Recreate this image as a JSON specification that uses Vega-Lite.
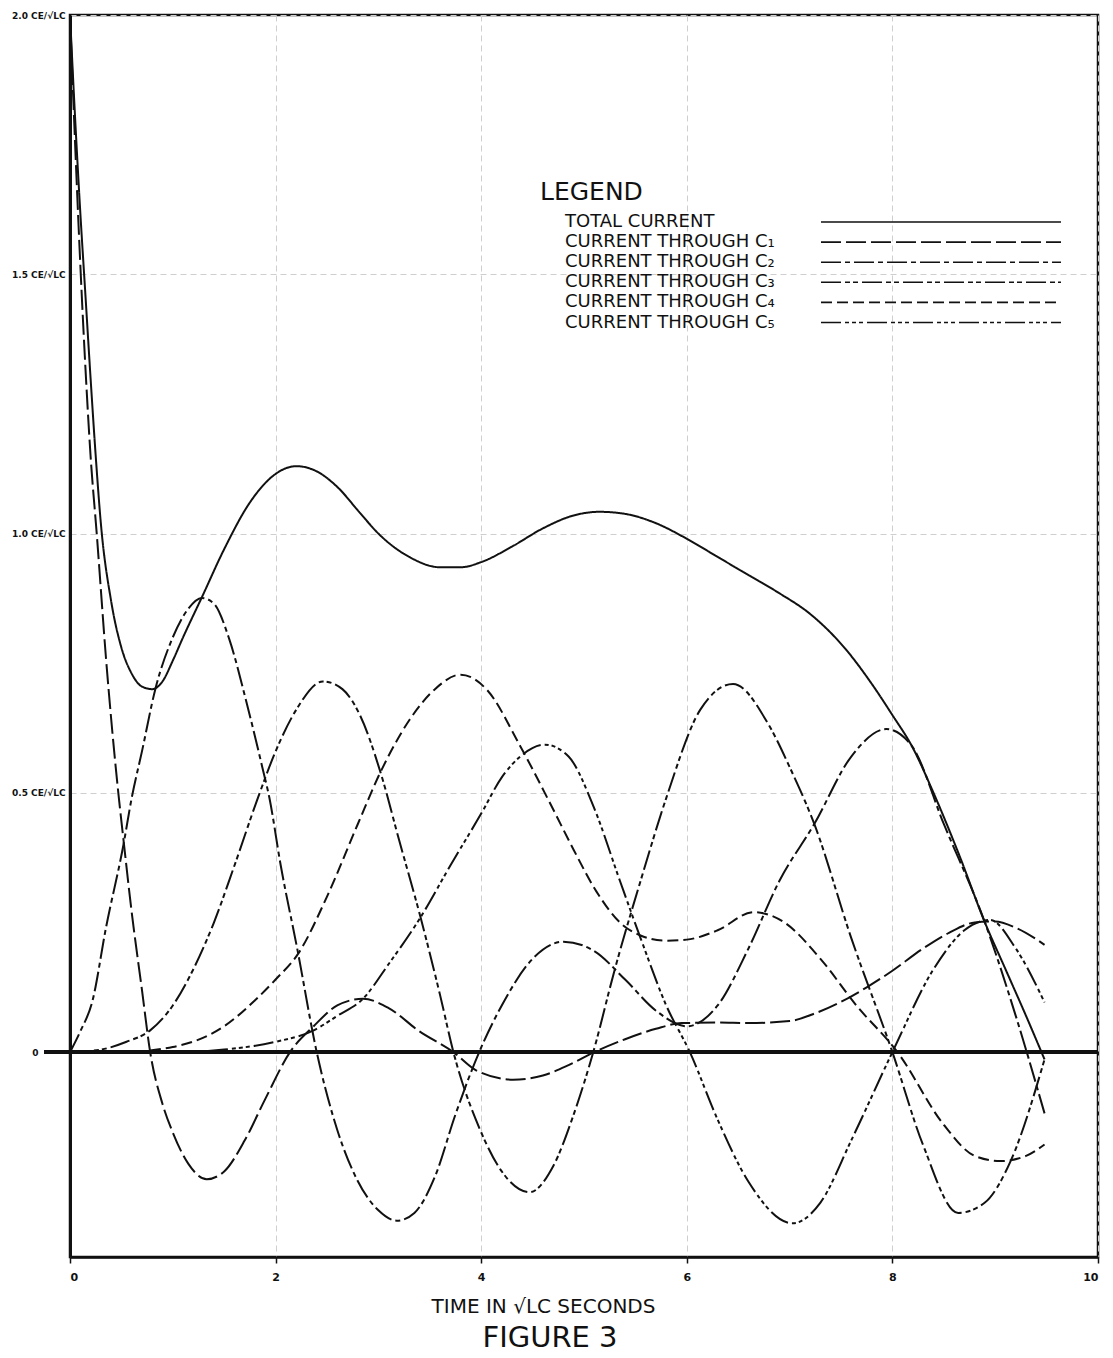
{
  "$schema": "https://vega.github.io/schema/vega-lite/v6.json",
  "width": 1028,
  "height": 1242,
  "autosize": {"type": "none"},
  "padding": {"left": 70, "top": 15, "right": 15, "bottom": 101},
  "background": "white",
  "config": {
    "font": "DejaVu Sans",
    "view": {"stroke": "#111", "strokeWidth": 2.5}
  },
  "title": {"text": "FIGURE 3", "orient": "bottom", "fontSize": 29, "fontWeight": "normal", "color": "#111", "offset": 8, "anchor": "middle", "dx": -34},
  "data": {"values": [
    {"s":"T","t":0,"i":2.0},{"s":"T","t":0.05,"i":1.8},{"s":"T","t":0.1,"i":1.62},{"s":"T","t":0.15,"i":1.46},{"s":"T","t":0.2,"i":1.3},{"s":"T","t":0.25,"i":1.15},{"s":"T","t":0.3,"i":1.02},{"s":"T","t":0.4,"i":0.87},{"s":"T","t":0.5,"i":0.78},{"s":"T","t":0.6,"i":0.73},{"s":"T","t":0.7,"i":0.705},{"s":"T","t":0.8,"i":0.70},{"s":"T","t":0.9,"i":0.715},{"s":"T","t":1.0,"i":0.755},{"s":"T","t":1.1,"i":0.8},{"s":"T","t":1.28,"i":0.876},{"s":"T","t":1.5,"i":0.97},{"s":"T","t":1.75,"i":1.06},{"s":"T","t":2.0,"i":1.115},{"s":"T","t":2.2,"i":1.13},{"s":"T","t":2.4,"i":1.12},{"s":"T","t":2.6,"i":1.09},{"s":"T","t":2.82,"i":1.04},{"s":"T","t":3.0,"i":1.0},{"s":"T","t":3.3,"i":0.955},{"s":"T","t":3.6,"i":0.935},{"s":"T","t":3.8,"i":0.935},{"s":"T","t":4.0,"i":0.945},{"s":"T","t":4.3,"i":0.975},{"s":"T","t":4.6,"i":1.01},{"s":"T","t":4.9,"i":1.035},{"s":"T","t":5.15,"i":1.042},{"s":"T","t":5.4,"i":1.038},{"s":"T","t":5.7,"i":1.02},{"s":"T","t":6.0,"i":0.99},{"s":"T","t":6.3,"i":0.955},{"s":"T","t":6.6,"i":0.92},{"s":"T","t":6.9,"i":0.885},{"s":"T","t":7.2,"i":0.845},{"s":"T","t":7.55,"i":0.776},{"s":"T","t":7.8,"i":0.71},{"s":"T","t":8.0,"i":0.65},{"s":"T","t":8.19,"i":0.59},{"s":"T","t":8.4,"i":0.5},{"s":"T","t":8.65,"i":0.38},{"s":"T","t":8.9,"i":0.25},{"s":"T","t":9.1,"i":0.16},{"s":"T","t":9.3,"i":0.07},{"s":"T","t":9.48,"i":-0.014},

    {"s":"C₁","t":0,"i":2.0},{"s":"C₁","t":0.05,"i":1.75},{"s":"C₁","t":0.1,"i":1.52},{"s":"C₁","t":0.15,"i":1.32},{"s":"C₁","t":0.2,"i":1.15},{"s":"C₁","t":0.26,"i":1.0},{"s":"C₁","t":0.35,"i":0.76},{"s":"C₁","t":0.47,"i":0.5},{"s":"C₁","t":0.52,"i":0.41},{"s":"C₁","t":0.6,"i":0.27},{"s":"C₁","t":0.7,"i":0.12},{"s":"C₁","t":0.78,"i":0.0},{"s":"C₁","t":0.9,"i":-0.1},{"s":"C₁","t":1.0,"i":-0.155},{"s":"C₁","t":1.15,"i":-0.215},{"s":"C₁","t":1.33,"i":-0.245},{"s":"C₁","t":1.5,"i":-0.23},{"s":"C₁","t":1.7,"i":-0.17},{"s":"C₁","t":1.9,"i":-0.09},{"s":"C₁","t":2.14,"i":0.0},{"s":"C₁","t":2.37,"i":0.05},{"s":"C₁","t":2.6,"i":0.09},{"s":"C₁","t":2.85,"i":0.103},{"s":"C₁","t":3.1,"i":0.085},{"s":"C₁","t":3.4,"i":0.04},{"s":"C₁","t":3.73,"i":0.0},{"s":"C₁","t":3.95,"i":-0.035},{"s":"C₁","t":4.31,"i":-0.053},{"s":"C₁","t":4.6,"i":-0.045},{"s":"C₁","t":4.85,"i":-0.025},{"s":"C₁","t":5.1,"i":0.0},{"s":"C₁","t":5.4,"i":0.025},{"s":"C₁","t":5.7,"i":0.045},{"s":"C₁","t":5.95,"i":0.056},{"s":"C₁","t":6.3,"i":0.057},{"s":"C₁","t":6.6,"i":0.056},{"s":"C₁","t":7.0,"i":0.06},{"s":"C₁","t":7.25,"i":0.075},{"s":"C₁","t":7.49,"i":0.096},{"s":"C₁","t":7.75,"i":0.125},{"s":"C₁","t":8.0,"i":0.157},{"s":"C₁","t":8.3,"i":0.2},{"s":"C₁","t":8.55,"i":0.23},{"s":"C₁","t":8.8,"i":0.25},{"s":"C₁","t":9.0,"i":0.252},{"s":"C₁","t":9.2,"i":0.24},{"s":"C₁","t":9.48,"i":0.207},

    {"s":"C₂","t":0,"i":0.0},{"s":"C₂","t":0.1,"i":0.04},{"s":"C₂","t":0.22,"i":0.1},{"s":"C₂","t":0.35,"i":0.24},{"s":"C₂","t":0.52,"i":0.4},{"s":"C₂","t":0.6,"i":0.49},{"s":"C₂","t":0.7,"i":0.58},{"s":"C₂","t":0.83,"i":0.7},{"s":"C₂","t":1.0,"i":0.8},{"s":"C₂","t":1.15,"i":0.855},{"s":"C₂","t":1.28,"i":0.876},{"s":"C₂","t":1.4,"i":0.865},{"s":"C₂","t":1.55,"i":0.796},{"s":"C₂","t":1.71,"i":0.68},{"s":"C₂","t":1.87,"i":0.55},{"s":"C₂","t":1.94,"i":0.49},{"s":"C₂","t":2.05,"i":0.36},{"s":"C₂","t":2.21,"i":0.2},{"s":"C₂","t":2.4,"i":0.0},{"s":"C₂","t":2.6,"i":-0.15},{"s":"C₂","t":2.79,"i":-0.245},{"s":"C₂","t":3.0,"i":-0.305},{"s":"C₂","t":3.18,"i":-0.325},{"s":"C₂","t":3.35,"i":-0.31},{"s":"C₂","t":3.55,"i":-0.24},{"s":"C₂","t":3.75,"i":-0.12},{"s":"C₂","t":3.98,"i":0.0},{"s":"C₂","t":4.2,"i":0.09},{"s":"C₂","t":4.5,"i":0.18},{"s":"C₂","t":4.8,"i":0.213},{"s":"C₂","t":5.1,"i":0.195},{"s":"C₂","t":5.4,"i":0.14},{"s":"C₂","t":5.7,"i":0.08},{"s":"C₂","t":6.0,"i":0.05},{"s":"C₂","t":6.3,"i":0.09},{"s":"C₂","t":6.6,"i":0.2},{"s":"C₂","t":6.9,"i":0.33},{"s":"C₂","t":7.24,"i":0.44},{"s":"C₂","t":7.6,"i":0.57},{"s":"C₂","t":7.94,"i":0.623},{"s":"C₂","t":8.19,"i":0.59},{"s":"C₂","t":8.5,"i":0.44},{"s":"C₂","t":8.9,"i":0.25},{"s":"C₂","t":9.2,"i":0.07},{"s":"C₂","t":9.48,"i":-0.118},

    {"s":"C₃","t":0,"i":0.0},{"s":"C₃","t":0.3,"i":0.005},{"s":"C₃","t":0.55,"i":0.02},{"s":"C₃","t":0.78,"i":0.042},{"s":"C₃","t":1.0,"i":0.09},{"s":"C₃","t":1.2,"i":0.16},{"s":"C₃","t":1.4,"i":0.25},{"s":"C₃","t":1.6,"i":0.36},{"s":"C₃","t":1.82,"i":0.486},{"s":"C₃","t":2.0,"i":0.58},{"s":"C₃","t":2.2,"i":0.66},{"s":"C₃","t":2.46,"i":0.715},{"s":"C₃","t":2.65,"i":0.7},{"s":"C₃","t":2.82,"i":0.65},{"s":"C₃","t":3.02,"i":0.54},{"s":"C₃","t":3.2,"i":0.41},{"s":"C₃","t":3.41,"i":0.26},{"s":"C₃","t":3.6,"i":0.11},{"s":"C₃","t":3.73,"i":0.0},{"s":"C₃","t":3.99,"i":-0.15},{"s":"C₃","t":4.2,"i":-0.23},{"s":"C₃","t":4.47,"i":-0.27},{"s":"C₃","t":4.7,"i":-0.22},{"s":"C₃","t":4.9,"i":-0.12},{"s":"C₃","t":5.09,"i":0.0},{"s":"C₃","t":5.3,"i":0.16},{"s":"C₃","t":5.55,"i":0.33},{"s":"C₃","t":5.8,"i":0.49},{"s":"C₃","t":6.13,"i":0.66},{"s":"C₃","t":6.45,"i":0.71},{"s":"C₃","t":6.8,"i":0.63},{"s":"C₃","t":7.0,"i":0.55},{"s":"C₃","t":7.24,"i":0.44},{"s":"C₃","t":7.6,"i":0.22},{"s":"C₃","t":8.0,"i":0.0},{"s":"C₃","t":8.3,"i":-0.18},{"s":"C₃","t":8.64,"i":-0.31},{"s":"C₃","t":8.9,"i":-0.29},{"s":"C₃","t":9.15,"i":-0.21},{"s":"C₃","t":9.48,"i":-0.014},

    {"s":"C₄","t":0,"i":0.0},{"s":"C₄","t":0.5,"i":0.0},{"s":"C₄","t":1.0,"i":0.01},{"s":"C₄","t":1.5,"i":0.05},{"s":"C₄","t":1.8,"i":0.1},{"s":"C₄","t":2.0,"i":0.14},{"s":"C₄","t":2.22,"i":0.19},{"s":"C₄","t":2.5,"i":0.3},{"s":"C₄","t":2.8,"i":0.44},{"s":"C₄","t":3.02,"i":0.54},{"s":"C₄","t":3.3,"i":0.64},{"s":"C₄","t":3.55,"i":0.7},{"s":"C₄","t":3.8,"i":0.728},{"s":"C₄","t":4.05,"i":0.7},{"s":"C₄","t":4.38,"i":0.59},{"s":"C₄","t":4.67,"i":0.48},{"s":"C₄","t":4.9,"i":0.39},{"s":"C₄","t":5.12,"i":0.31},{"s":"C₄","t":5.35,"i":0.25},{"s":"C₄","t":5.55,"i":0.225},{"s":"C₄","t":5.8,"i":0.215},{"s":"C₄","t":6.0,"i":0.217},{"s":"C₄","t":6.3,"i":0.235},{"s":"C₄","t":6.65,"i":0.27},{"s":"C₄","t":6.95,"i":0.25},{"s":"C₄","t":7.3,"i":0.18},{"s":"C₄","t":7.65,"i":0.09},{"s":"C₄","t":8.05,"i":0.0},{"s":"C₄","t":8.5,"i":-0.14},{"s":"C₄","t":8.8,"i":-0.2},{"s":"C₄","t":9.05,"i":-0.21},{"s":"C₄","t":9.3,"i":-0.2},{"s":"C₄","t":9.48,"i":-0.178},

    {"s":"C₅","t":0,"i":0.0},{"s":"C₅","t":1.0,"i":0.0},{"s":"C₅","t":1.5,"i":0.005},{"s":"C₅","t":2.0,"i":0.02},{"s":"C₅","t":2.37,"i":0.042},{"s":"C₅","t":2.6,"i":0.07},{"s":"C₅","t":2.85,"i":0.103},{"s":"C₅","t":3.1,"i":0.17},{"s":"C₅","t":3.41,"i":0.26},{"s":"C₅","t":3.7,"i":0.36},{"s":"C₅","t":4.0,"i":0.46},{"s":"C₅","t":4.2,"i":0.53},{"s":"C₅","t":4.38,"i":0.57},{"s":"C₅","t":4.62,"i":0.593},{"s":"C₅","t":4.85,"i":0.57},{"s":"C₅","t":5.1,"i":0.47},{"s":"C₅","t":5.35,"i":0.33},{"s":"C₅","t":5.55,"i":0.22},{"s":"C₅","t":5.8,"i":0.09},{"s":"C₅","t":6.03,"i":0.0},{"s":"C₅","t":6.3,"i":-0.13},{"s":"C₅","t":6.6,"i":-0.25},{"s":"C₅","t":7.03,"i":-0.33},{"s":"C₅","t":7.3,"i":-0.29},{"s":"C₅","t":7.6,"i":-0.17},{"s":"C₅","t":8.0,"i":0.0},{"s":"C₅","t":8.4,"i":0.16},{"s":"C₅","t":8.7,"i":0.235},{"s":"C₅","t":8.95,"i":0.255},{"s":"C₅","t":9.2,"i":0.2},{"s":"C₅","t":9.48,"i":0.096}
  ]},
  "layer": [
    {
      "mark": {"type": "line", "interpolate": "monotone", "color": "#111", "strokeWidth": 2},
      "encoding": {
        "x": {"field": "t", "type": "quantitative",
          "scale": {"domain": [0, 10], "nice": false, "zero": false},
          "axis": {"values": [0, 2, 4, 6, 8, 10], "format": "d", "title": "TIME IN √LC SECONDS", "titleFontSize": 20, "titleFontWeight": "normal", "titleColor": "#111", "titlePadding": 14, "titleX": 473,
            "labelFontSize": 11, "labelFontWeight": "bold", "labelColor": "#111", "labelPadding": 8, "tickSize": 6, "tickColor": "#111", "tickWidth": 1.5,
            "domainColor": "#111", "domainWidth": 2.5,
            "grid": true, "gridColor": "#cfcfcf", "gridDash": [6, 4], "gridWidth": 1}
        },
        "y": {"field": "i", "type": "quantitative",
          "scale": {"domain": [-0.395, 2.0], "nice": false, "zero": false},
          "axis": {"values": [0, 0.5, 1, 1.5, 2], "title": null,
            "labelExpr": "datum.value == 0 ? '0' : format(datum.value, '.1f') + ' CE/√LC'",
            "labelFontSize": 9, "labelFontWeight": "bold", "labelColor": "#111",
            "labelPadding": {"condition": {"test": "datum.value == 0", "value": 32}, "value": 5},
            "ticks": false,
            "domainColor": "#111", "domainWidth": 3,
            "grid": true, "gridColor": "#cfcfcf", "gridDash": [6, 4], "gridWidth": 1}
        },
        "strokeDash": {"field": "s", "type": "nominal",
          "scale": {"domain": ["T", "C₁", "C₂", "C₃", "C₄", "C₅"],
            "range": [[1, 0], [20, 5], [20, 4, 5, 4], [20, 4, 5, 3, 5, 4], [11, 5], [20, 4, 4, 3, 4, 3, 4, 4]]},
          "legend": {"orient": "none", "legendX": 470, "legendY": 165, "title": "LEGEND", "titleFontSize": 25, "titleFontWeight": "normal", "titleColor": "#111", "titlePadding": 8,
            "symbolType": "M-15,0H15", "symbolSize": 256, "symbolStrokeWidth": 1.6, "symbolStrokeColor": "#111", "symbolFillColor": "transparent",
            "labelFontSize": 18, "labelColor": "#111", "labelOffset": -385, "symbolOffset": 392, "rowPadding": 2.1, "labelLimit": 400,
            "labelExpr": "datum.label == 'T' ? 'TOTAL CURRENT' : 'CURRENT THROUGH ' + datum.label"}
        },
        "detail": {"field": "s", "type": "nominal"}
      }
    },
    {
      "mark": {"type": "rule", "color": "#111", "strokeWidth": 3},
      "encoding": {"y": {"datum": 0}, "x": {"datum": -0.25}, "x2": {"datum": 10}}
    }
  ]
}
